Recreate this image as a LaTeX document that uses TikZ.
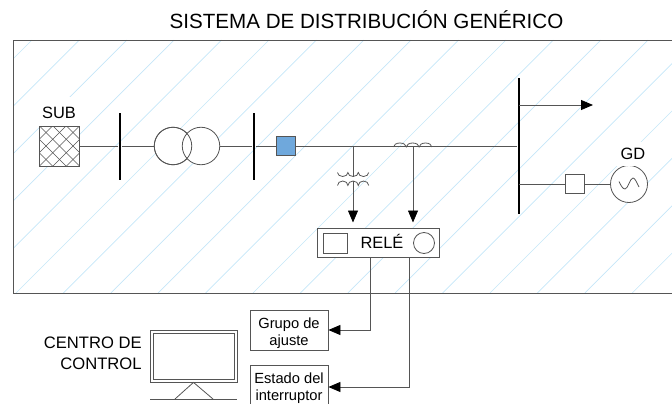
\documentclass[tikz,border=0pt]{standalone}
\usepackage{fontspec}
\setmainfont{Liberation Sans}
\usetikzlibrary{arrows.meta}
\definecolor{linea}{HTML}{555555}
\definecolor{rayado}{HTML}{C5E6F8}
\definecolor{azul}{HTML}{6FA8DC}
\newcommand{\bajar}{\rule{0pt}{17pt}}
\tikzset{
  caja/.style={draw=linea,fill=white,rectangle,inner sep=0pt},
  barra/.style={fill=black,rectangle,inner sep=0pt,minimum width=2.4pt},
  circulo/.style={draw=linea,fill=white,circle,inner sep=0pt},
  etiqueta/.style={inner sep=0pt,font=\fontsize{16.4}{20}\selectfont},
  cajatexto/.style={caja,minimum width=78pt,minimum height=40pt,align=center,font=\fontsize{14.7}{17.8}\selectfont},
  flecha/.style={draw=linea,-{Triangle[black,length=12pt,width=10pt]}}
}
\begin{document}
\begin{tikzpicture}[x=1pt,y=-1pt,line width=0.8pt]
\useasboundingbox (0,0) rectangle (672,404);
% zona rayada
\begin{scope}
\clip (13,40) rectangle (672,293);
\foreach \c in {0,...,19}
  \draw[rayado,line width=0.65pt] ({32+47.4*\c},40) -- ({32+47.4*\c-253},293);
\end{scope}
\draw[linea] (672,40) -- (13,40) -- (13,293) -- (672,293);
\node[font=\fontsize{20.6}{24}\selectfont,inner sep=0pt] (titulo) at (366.5,20) {SISTEMA DE DISTRIBUCIÓN GENÉRICO};
% red
\draw (59,113) node[etiqueta,fill=white,minimum width=41pt,minimum height=33pt] (subl) {SUB};
\draw (59.5,146) node[caja,minimum size=40pt,path picture={
  \foreach \k in {-5,...,5} {
    \draw[linea,line width=0.7pt] ([xshift=\k*13.5pt]path picture bounding box.center) ++(-30pt,-30pt) -- ++(60pt,60pt);
    \draw[linea,line width=0.7pt] ([xshift=\k*13.5pt]path picture bounding box.center) ++(-30pt,30pt) -- ++(60pt,-60pt);
  }}] (sub) {};
\draw (120,146) node[barra,minimum height=67pt] (bus1) {};
\draw (254,146) node[barra,minimum height=67pt] (bus2) {};
\draw (519,146) node[barra,minimum height=135pt] (bus3) {};
\draw (173,146) node[circulo,minimum size=37.5pt] (t1) {};
\draw (201,146) node[circulo,minimum size=37.5pt] (t2) {};
\draw[linea] (173,146) circle (18.75pt);
\draw (285.5,146) node[caja,fill=azul,minimum size=19pt] (int1) {};
\coordinate (carga) at (593,105);
\coordinate (ct) at (353,146);
\coordinate (tc) at (413,146);
\path[-] (sub) edge[draw=linea] (bus1);
\path[-] (bus1) edge[draw=linea] (t1);
\path[-] (t2) edge[draw=linea] (bus2);
\path[-] (bus2) edge[draw=linea] (int1);
\path[-] (int1) edge[draw=linea] (bus3);
\path (bus3 |- carga) edge[flecha] (carga);
% generador
\draw (574.5,184) node[caja,minimum size=19pt] (int2) {};
\draw (629,184) node[circulo,minimum size=37pt] (gen) {};
\draw (633,154) node[etiqueta,fill=white,minimum width=36pt,minimum height=24pt] (gdl) {GD};
\path[-] (bus3 |- int2) edge[draw=linea] (int2);
\path[-] (int2) edge[draw=linea] (gen);
\draw[linea] (619,181.5) .. controls (621,186) and (623,189) .. (625,189) .. controls (628,189) and (630,178) .. (633,178) .. controls (635,178) and (637,183) .. (639,187);
% rele
\draw (378,243) node[caja,minimum width=122pt,minimum height=28.5pt] (rele) {};
\draw (335,243) node[caja,minimum width=24pt,minimum height=20pt] (relec) {};
\draw (424,243) node[circulo,minimum size=21pt] (releo) {};
\draw (382,241.5) node[etiqueta] (relet) {RELÉ};
\coordinate (cta) at (353,176.5);
\coordinate (ctb) at (353,181);
\coordinate (ctf) at (353,222.5);
\coordinate (tcf) at (413,222.5);
\path[-] (ct) edge[draw=linea] (cta);
\path (ctb) edge[flecha] (ctf);
\path (tc) edge[flecha] (tcf);
% bobinas
\draw[linea] (393.5,147) arc (180:0:6.4pt and 4pt) arc (180:0:6.4pt and 4pt) arc (180:0:6.4pt and 4pt);
\draw[linea] (337.5,172.5) arc (180:360:5.2pt and 4pt) arc (180:360:5.2pt and 4pt) arc (180:360:5.2pt and 4pt);
\draw[linea] (337.5,185.5) arc (180:0:5.2pt and 4.5pt) arc (180:0:5.2pt and 4.5pt) arc (180:0:5.2pt and 4.5pt);
% cajas de abajo
\draw (289,330) node[cajatexto] (grupo) {\bajar Grupo de\\ajuste};
\draw (289,385) node[cajatexto] (estado) {\bajar Estado del\\interruptor};
\coordinate (r1) at (370,257);
\coordinate (r2) at (409,257);
\draw[flecha] (r1) |- (grupo.east);
\draw[flecha] (r2) |- ([yshift=-2pt]estado.east);
% centro de control
\draw (193.5,356) node[caja,minimum width=87pt,minimum height=52pt] (mon) {};
\draw (193.5,356) node[caja,minimum width=81pt,minimum height=46pt] (pant) {};
\coordinate (b1) at (150,399);
\coordinate (b2) at (237,399);
\coordinate (p1) at (175,399);
\coordinate (p2) at (213,399);
\draw[linea] (b1) -- (b2);
\draw[linea] (p1) -- (mon.south) -- (p2);
\node[etiqueta,font=\fontsize{16.6}{20.8}\selectfont,align=right,anchor=east] (centro) at (142,353.5) {CENTRO DE\\CONTROL};
\end{tikzpicture}
\end{document}
